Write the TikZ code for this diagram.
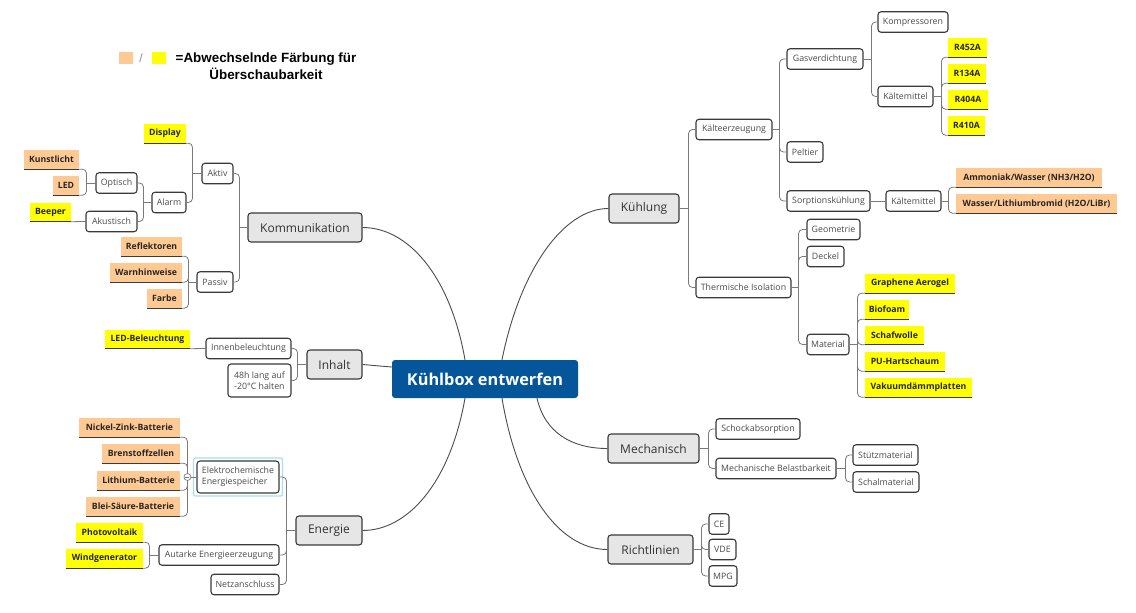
\documentclass[tikz,border=0pt]{standalone}
\usepackage{fontspec}
\setmainfont{Open Sans}
\newfontfamily\legendfont{Liberation Sans}
\usetikzlibrary{calc}
\definecolor{cblue}{HTML}{05559B}
\definecolor{cgray}{HTML}{E6E6E6}
\definecolor{corange}{HTML}{FFC994}
\definecolor{cyellow}{HTML}{FFFF00}
\definecolor{cline}{HTML}{7A7A7A}
\definecolor{cborder}{HTML}{3A3A3A}
\definecolor{ctext}{HTML}{4A4A4A}
\definecolor{cselect}{HTML}{A9DDF6}
\begin{document}
\begin{tikzpicture}[x=1pt,y=-1pt,
 central/.style={fill=cblue, rounded corners=3pt, text=white, font=\fontsize{16.3}{19}\selectfont\bfseries, minimum width=186pt, minimum height=38pt, inner sep=2pt},
 maintopic/.style={fill=cgray, draw=cborder, line width=1.1pt, rounded corners=3pt, text=black!80, font=\fontsize{12}{14}\selectfont, minimum height=29pt, inner sep=2pt},
 subtopic/.style={fill=white, draw=cborder, line width=1.1pt, rounded corners=3pt, text=ctext, font=\fontsize{8.8}{11}\selectfont, minimum height=20.5pt, inner xsep=3pt, inner ysep=2pt},
 hl/.style={text=black!85, font=\fontsize{8.7}{10}\selectfont\bfseries, minimum height=19pt, inner xsep=2.5pt, inner ysep=1pt, append after command={(\tikzlastnode.south west) edge[uline] (\tikzlastnode.south east)}},
 hlo/.style={hl, fill=corange},
 hly/.style={hl, fill=cyellow},
 uline/.style={draw=cborder, line width=1.3pt},
 conn/.style={draw=cline, line width=0.8pt, rounded corners=4pt},
 maincurve/.style={draw=black!70, line width=0.9pt},
]
\useasboundingbox (0,0) rectangle (1136,613);
\fill[white] (0,0) rectangle (1136,613);

% legend
\node[fill=corange, minimum width=14pt, minimum height=12pt, inner sep=0] (lego) at (126,58) {};
\node[text=black!45, font=\legendfont\fontsize{12}{14}\selectfont, inner sep=0] (legs) at (141,58) {/};
\node[fill=cyellow, minimum width=14pt, minimum height=12pt, inner sep=0] (legy) at (159,58) {};
\node[font=\legendfont\fontsize{13.4}{16.5}\selectfont\bfseries, align=center, inner sep=0] (legt) at (266,66) {=Abwechselnde Färbung für\\Überschaubarkeit};

% central and main topics
\node[central] (cen) at (485,379) {Kühlbox entwerfen};
\node[maintopic, minimum width=114pt] (kom) at (305,227.5) {Kommunikation};
\node[maintopic, minimum width=55pt] (inh) at (334.5,364.5) {Inhalt};
\node[maintopic, minimum width=66pt] (ene) at (329,530.5) {Energie};
\node[maintopic, minimum width=70pt] (kue) at (644,208.5) {Kühlung};
\node[maintopic, minimum width=91pt] (mec) at (653.5,448.5) {Mechanisch};
\node[maintopic, minimum width=85pt] (ric) at (650.5,549.5) {Richtlinien};

\draw[maincurve] ([xshift=17pt]cen.north) .. controls +(18,-90) and +(-45,0) .. (kue.west);
\draw[maincurve] ([xshift=-20pt]cen.north) .. controls +(-15,-85) and +(45,0) .. (kom.east);
\draw[maincurve] ([xshift=-20pt]cen.south) .. controls +(-15,85) and +(45,0) .. (ene.east);
\draw[maincurve] ([xshift=17pt]cen.south) .. controls +(15,90) and +(-50,0) .. (ric.west);
\draw[maincurve] ([xshift=52pt]cen.south) .. controls +(8,35) and +(-35,0) .. (mec.west);
\draw[maincurve] ([yshift=12pt]cen.west) .. controls +(-12,-1) .. (inh.east);

% Kommunikation
\node[subtopic, minimum width=31pt] (akt) at (217.5,173.5) {Aktiv};
\node[subtopic, minimum width=36pt] (pas) at (215,282) {Passiv};
\node[hly, minimum width=42pt] (dis) at (165,133.5) {Display};
\node[subtopic, minimum width=34pt] (ala) at (169,202.5) {Alarm};
\node[subtopic, minimum width=41pt] (opt) at (116.5,183) {Optisch};
\node[subtopic, minimum width=51pt] (aku) at (111.5,221.5) {Akustisch};
\node[hlo, minimum width=55pt] (kun) at (51.5,159.5) {Kunstlicht};
\node[hlo, minimum width=26pt] (led) at (66,185.5) {LED};
\node[hly, minimum width=41pt] (bee) at (50.5,212) {Beeper};
\node[hlo, minimum width=61pt] (ref) at (151.5,246.5) {Reflektoren};
\node[hlo, minimum width=72pt] (war) at (146,272.5) {Warnhinweise};
\node[hlo, minimum width=35pt] (far) at (164.5,298.5) {Farbe};

\draw[conn] (kom.west) -- ++(-8,0);
\draw[conn] (kom.west) ++(-8,0) |- (akt.east);
\draw[conn] (kom.west) ++(-8,0) |- (pas.east);
\draw[conn] (akt.west) -- ++(-9,0);
\draw[conn] (akt.west) ++(-9,0) |- (dis.south east);
\draw[conn] (akt.west) ++(-9,0) |- (ala.east);
\draw[conn] (ala.west) -- ++(-8,0);
\draw[conn] (ala.west) ++(-8,0) |- (opt.east);
\draw[conn] (ala.west) ++(-8,0) |- (aku.east);
\draw[conn] (opt.west) -- ++(-9,0);
\draw[conn] (opt.west) ++(-9,0) |- (kun.south east);
\draw[conn] (opt.west) ++(-9,0) |- (led.south east);
\draw[conn] (aku.west) -- (bee.south east);
\draw[conn] (pas.west) -- ++(-8,0);
\draw[conn] (pas.west) ++(-8,0) |- (ref.south east);
\draw[conn] (pas.west) ++(-8,0) |- (war.south east);
\draw[conn] (pas.west) ++(-8,0) |- (far.south east);

% Inhalt
\node[subtopic, minimum width=85pt] (inb) at (248.5,348.5) {Innenbeleuchtung};
\node[subtopic, minimum width=63pt, minimum height=33pt, align=left] (h48) at (259.5,380.5) {48h lang auf\\-20°C halten};
\node[hly, minimum width=85pt] (ledb) at (147.5,339) {LED-Beleuchtung};
\draw[conn] (inh.west) -- ++(-9,0);
\draw[conn] (inh.west) ++(-9,0) |- (inb.east);
\draw[conn] (inh.west) ++(-9,0) |- (h48.east);
\draw[conn] (inb.west) -- (ledb.south east);

% Energie
\node[subtopic, minimum width=82pt, minimum height=32pt, align=left] (ele) at (238,477) {Elektrochemische\\Energiespeicher};
\node[subtopic, minimum width=120pt] (aut) at (219,555) {Autarke Energieerzeugung};
\node[subtopic, minimum width=68pt] (net) at (245,584.5) {Netzanschluss};
\node[hlo, minimum width=101pt] (nic) at (129.5,427.5) {Nickel-Zink-Batterie};
\node[hlo, minimum width=78pt] (bre) at (141,453.5) {Brenstoffzellen};
\node[hlo, minimum width=83pt] (lit) at (138.5,480.5) {Lithium-Batterie};
\node[hlo, minimum width=94pt] (ble) at (133,506.5) {Blei-Säure-Batterie};
\node[hly, minimum width=67pt] (pho) at (109.5,532.5) {Photovoltaik};
\node[hly, minimum width=77pt] (win) at (104.5,558.5) {Windgenerator};
\draw[cselect, line width=1.2pt, rounded corners=2pt] ([xshift=-3pt,yshift=-2.5pt]ele.south west) rectangle ([xshift=3pt,yshift=2.5pt]ele.north east);

\draw[conn] (ene.west) -- ++(-9,0);
\draw[conn] (ene.west) ++(-9,0) |- (ele.east);
\draw[conn] (ene.west) ++(-9,0) |- (aut.east);
\draw[conn] (ene.west) ++(-9,0) |- (net.east);
\draw[conn] (ele.west) -- ++(-9,0);
\draw[conn] (ele.west) ++(-9,0) |- (nic.south east);
\draw[conn] (ele.west) ++(-9,0) |- (bre.south east);
\draw[conn] (ele.west) ++(-9,0) |- (lit.south east);
\draw[conn] (ele.west) ++(-9,0) |- (ble.south east);
\node[circle, draw=cline, fill=white, inner sep=0, minimum size=7pt, line width=0.7pt] (col) at ($(ele.west)+(-9,0)$) {};
\draw[cline, line width=0.7pt] ([xshift=-2pt]col.center) -- ([xshift=2pt]col.center);
\draw[conn] (aut.west) -- ++(-9,0);
\draw[conn] (aut.west) ++(-9,0) |- (pho.south east);
\draw[conn] (aut.west) ++(-9,0) |- (win.south east);

% Kuehlung
\node[subtopic, minimum width=76pt] (kae) at (734,129.5) {Kälteerzeugung};
\node[subtopic, minimum width=95pt] (the) at (743.5,287.5) {Thermische Isolation};
\node[subtopic, minimum width=76pt] (gas) at (825,59) {Gasverdichtung};
\node[subtopic, minimum width=36pt] (pel) at (805,152) {Peltier};
\node[subtopic, minimum width=83pt] (sor) at (828.5,201) {Sorptionskühlung};
\node[subtopic, minimum width=70pt] (kmp) at (913,22) {Kompressoren};
\node[subtopic, minimum width=55pt] (kma) at (905.5,96.5) {Kältemittel};
\node[hly, minimum width=39pt] (ra) at (967.5,47.5) {R452A};
\node[hly, minimum width=38pt] (rb) at (967,73.5) {R134A};
\node[hly, minimum width=40pt] (rc) at (968,99.5) {R404A};
\node[hly, minimum width=37pt] (rd) at (966.5,125.5) {R410A};
\node[subtopic, minimum width=55pt] (kmb) at (913.5,201) {Kältemittel};
\node[hlo, minimum width=146pt] (amm) at (1029,177.5) {Ammoniak/Wasser (NH3/H2O)};
\node[hlo, minimum width=161pt] (was) at (1036.5,203.5) {Wasser/Lithiumbromid (H2O/LiBr)};
\node[subtopic, minimum width=53pt] (geo) at (833.5,229.5) {Geometrie};
\node[subtopic, minimum width=37pt] (dec) at (825.5,256.5) {Deckel};
\node[subtopic, minimum width=42pt] (mat) at (828,344.5) {Material};
\node[hly, minimum width=90pt] (gra) at (910,283.5) {Graphene Aerogel};
\node[hly, minimum width=44pt] (bio) at (887,309.5) {Biofoam};
\node[hly, minimum width=59pt] (sch) at (894.5,335) {Schafwolle};
\node[hly, minimum width=80pt] (puh) at (905,361.5) {PU-Hartschaum};
\node[hly, minimum width=107pt] (vak) at (918.5,387.5) {Vakuumdämmplatten};

\draw[conn] (kue.east) -- ++(9,0);
\draw[conn] (kue.east) ++(9,0) |- (kae.west);
\draw[conn] (kue.east) ++(9,0) |- (the.west);
\draw[conn] (kae.east) -- ++(7,0);
\draw[conn] (kae.east) ++(7,0) |- (gas.west);
\draw[conn] (kae.east) ++(7,0) |- (pel.west);
\draw[conn] (kae.east) ++(7,0) |- (sor.west);
\draw[conn] (gas.east) -- ++(8,0);
\draw[conn] (gas.east) ++(8,0) |- (kmp.west);
\draw[conn] (gas.east) ++(8,0) |- (kma.west);
\draw[conn] (kma.east) -- ++(8,0);
\draw[conn] (kma.east) ++(8,0) |- (ra.south west);
\draw[conn] (kma.east) ++(8,0) |- (rb.south west);
\draw[conn] (kma.east) ++(8,0) |- (rc.south west);
\draw[conn] (kma.east) ++(8,0) |- (rd.south west);
\draw[conn] (sor.east) -- (kmb.west);
\draw[conn] (kmb.east) -- ++(7,0);
\draw[conn] (kmb.east) ++(7,0) |- (amm.south west);
\draw[conn] (kmb.east) ++(7,0) |- (was.south west);
\draw[conn] (the.east) -- ++(7,0);
\draw[conn] (the.east) ++(7,0) |- (geo.west);
\draw[conn] (the.east) ++(7,0) |- (dec.west);
\draw[conn] (the.east) ++(7,0) |- (mat.west);
\draw[conn] (mat.east) -- ++(8,0);
\draw[conn] (mat.east) ++(8,0) |- (gra.south west);
\draw[conn] (mat.east) ++(8,0) |- (bio.south west);
\draw[conn] (mat.east) ++(8,0) |- (sch.south west);
\draw[conn] (mat.east) ++(8,0) |- (puh.south west);
\draw[conn] (mat.east) ++(8,0) |- (vak.south west);

% Mechanisch
\node[subtopic, minimum width=84pt] (sho) at (758,429) {Schockabsorption};
\node[subtopic, minimum width=120pt] (mbe) at (776,468.5) {Mechanische Belastbarkeit};
\node[subtopic, minimum width=65pt] (stu) at (885.5,455) {Stützmaterial};
\node[subtopic, minimum width=66pt] (sca) at (886,482) {Schalmaterial};
\draw[conn] (mec.east) -- ++(9,0);
\draw[conn] (mec.east) ++(9,0) |- (sho.west);
\draw[conn] (mec.east) ++(9,0) |- (mbe.west);
\draw[conn] (mbe.east) -- ++(9,0);
\draw[conn] (mbe.east) ++(9,0) |- (stu.west);
\draw[conn] (mbe.east) ++(9,0) |- (sca.west);

% Richtlinien
\node[subtopic, minimum width=20pt] (ce) at (719,524) {CE};
\node[subtopic, minimum width=27pt] (vde) at (722.5,549.5) {VDE};
\node[subtopic, minimum width=28pt] (mpg) at (723,576) {MPG};
\draw[conn] (ric.east) -- ++(8,0);
\draw[conn] (ric.east) ++(8,0) |- (ce.west);
\draw[conn] (ric.east) ++(8,0) |- (vde.west);
\draw[conn] (ric.east) ++(8,0) |- (mpg.west);
\end{tikzpicture}
\end{document}
